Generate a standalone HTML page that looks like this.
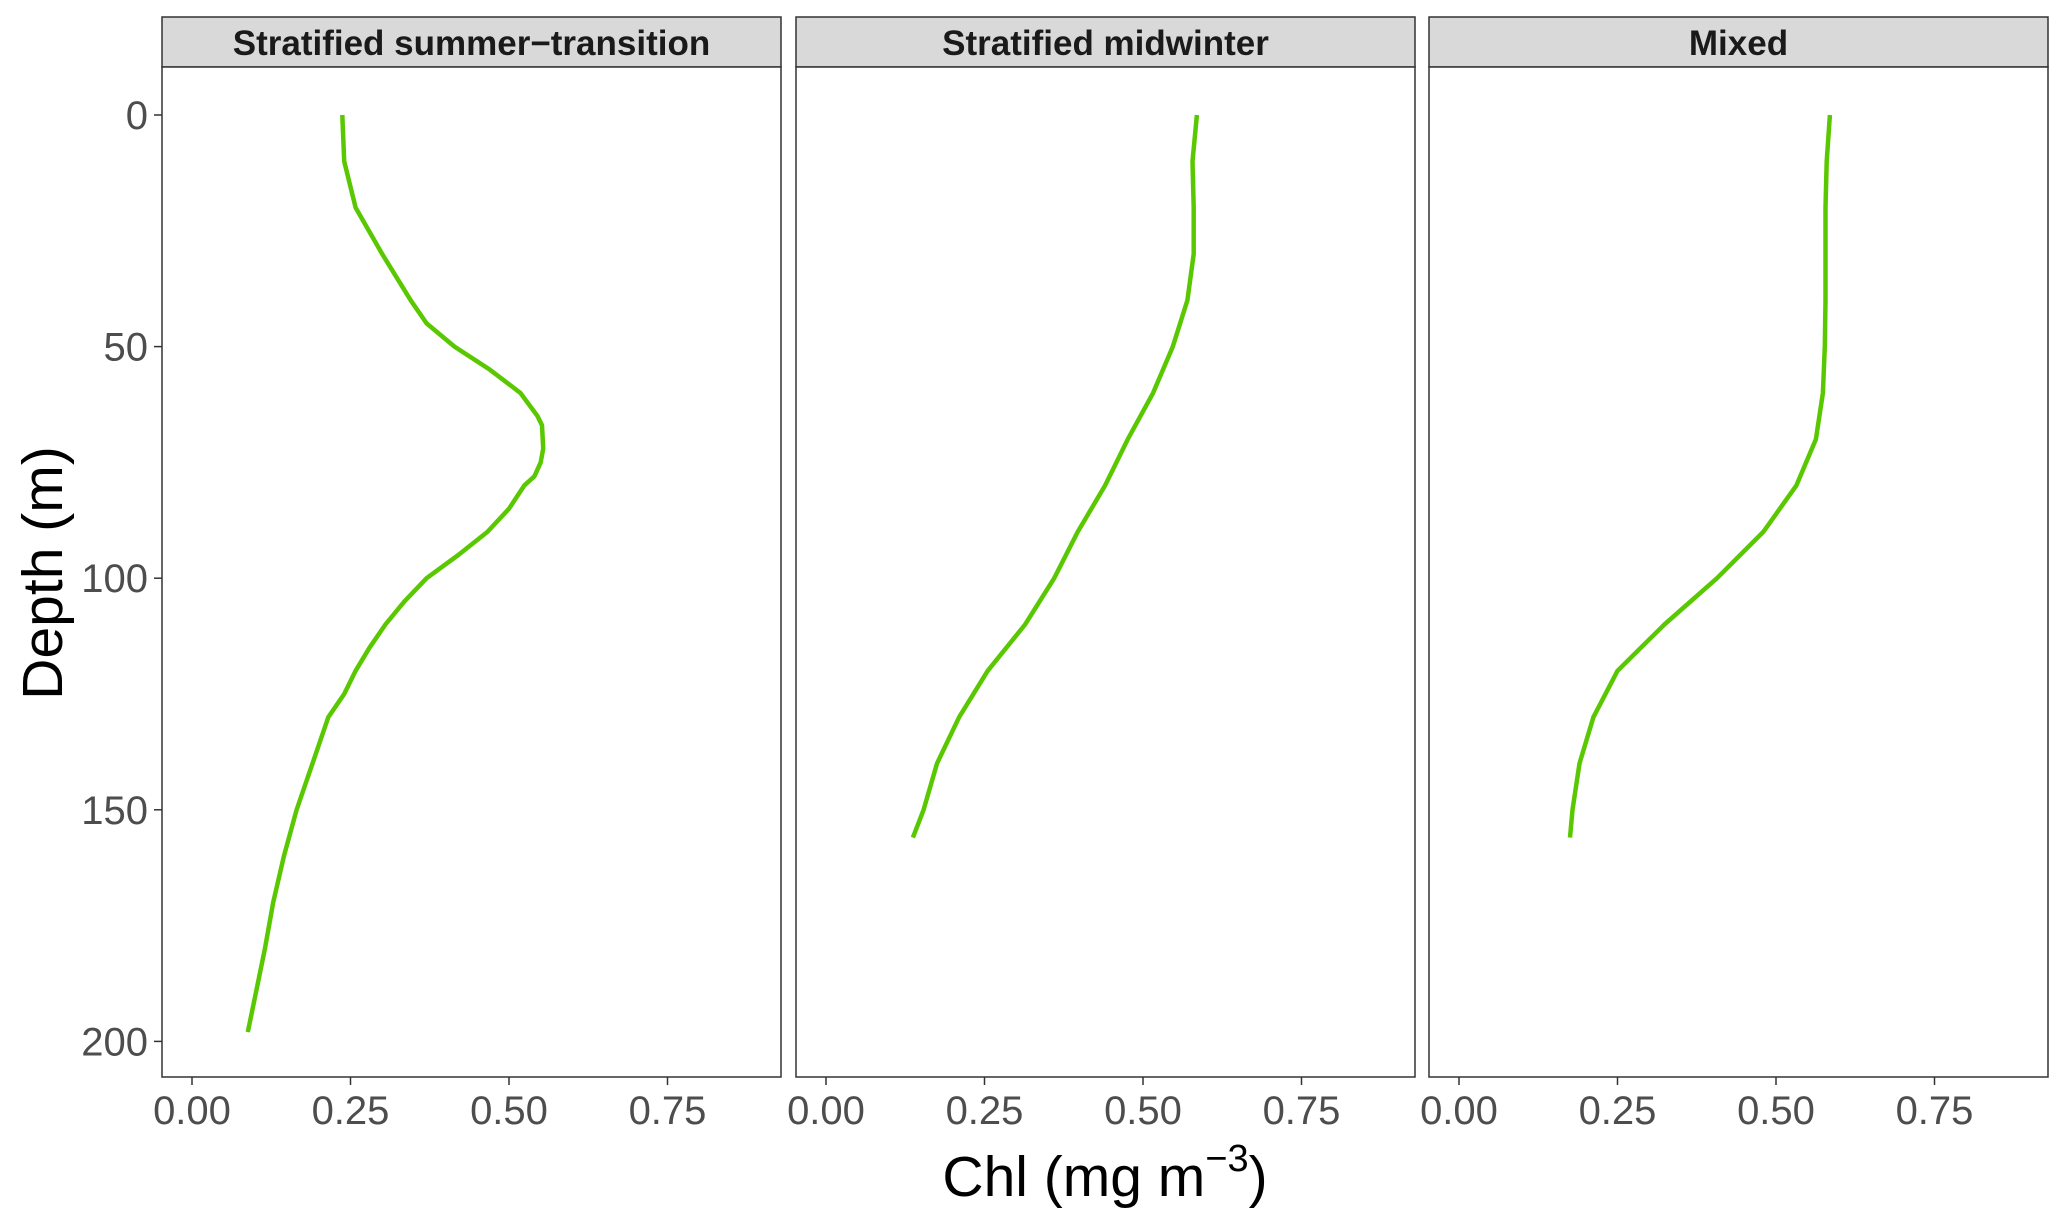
<!DOCTYPE html>
<html><head><meta charset="utf-8"><style>
body{margin:0;background:#fff}
svg{display:block;font-family:"Liberation Sans",Arial,sans-serif}
</style></head><body>
<svg id="chart" width="2067" height="1225"></svg>
<script>
const panelTitles=["Stratified summer\u2212transition","Stratified midwinter","Mixed"];
const depth1=[0,10,20,30,40,45,50,55,60,65,67,72,75,78,80,85,90,95,100,105,110,115,120,125,130,140,150,160,170,180,190,198];
const chl1=[0.237,0.24,0.258,0.30,0.345,0.37,0.414,0.47,0.518,0.545,0.552,0.554,0.55,0.54,0.524,0.50,0.466,0.42,0.37,0.335,0.305,0.28,0.258,0.24,0.215,0.19,0.165,0.145,0.128,0.115,0.10,0.088];
const depth2=[0,10,20,30,40,50,60,70,80,90,100,110,120,130,140,150,156];
const chl2=[0.585,0.578,0.58,0.58,0.57,0.547,0.516,0.476,0.44,0.397,0.36,0.314,0.255,0.21,0.175,0.154,0.137];
const depth3=[0,10,20,30,40,50,60,70,80,90,100,110,120,130,140,150,156];
const chl3=[0.585,0.58,0.578,0.578,0.578,0.577,0.574,0.563,0.532,0.48,0.407,0.324,0.25,0.212,0.19,0.179,0.175];
const depthTicks=[0,50,100,150,200];
const chlTicks=[0,0.25,0.5,0.75];
const chlTickLabels=["0.00","0.25","0.50","0.75"];
const series=[[depth1,chl1],[depth2,chl2],[depth3,chl3]];
const NS="http://www.w3.org/2000/svg";
const svg=document.getElementById('chart');
function mk(t,a,txt){const e=document.createElementNS(NS,t);for(const k in a)e.setAttribute(k,a[k]);if(txt!==undefined)e.textContent=txt;svg.appendChild(e);return e;}
const panelLeft=[162,796,1429],panelW=619,pTop=67,pBottom=1077,stripTop=17;
function yS(d){return 115+d*4.632;}
function xS(p,v){return panelLeft[p]+30+v*634;}
for(let p=0;p<3;p++){
  const L=panelLeft[p];
  const st=mk('rect',{x:L,y:stripTop,width:panelW,height:pTop-stripTop,fill:'#d9d9d9',stroke:'#333','stroke-width':1.5});
  
  
  const tt=mk('text',{x:L+panelW/2,y:55,'text-anchor':'middle','font-size':35,'font-weight':'bold',fill:'#1a1a1a'},panelTitles[p]);
  
  
  const bx=mk('rect',{x:L,y:pTop,width:panelW,height:pBottom-pTop,fill:'#fff',stroke:'#333','stroke-width':1.5});
  
  
  chlTicks.forEach((v,i)=>{
    const x=xS(p,v);
    const tk=mk('line',{x1:x,x2:x,y1:pBottom,y2:pBottom+8,stroke:'#333','stroke-width':1.5});
    
    
    const lb=mk('text',{x:x,y:pBottom+47,'text-anchor':'middle','font-size':40,fill:'#4d4d4d'},chlTickLabels[i]);
    
    
  });
  const ds=series[p][0],cs=series[p][1];
  const pts=ds.map((d,i)=>xS(p,cs[i]).toFixed(1)+','+yS(d).toFixed(1)).join(' ');
  const ln=mk('polyline',{points:pts,fill:'none',stroke:'#5ac800','stroke-width':4.5,'stroke-linejoin':'round'});
  
  
}
depthTicks.forEach(d=>{
  const y=yS(d);
  const tk=mk('line',{x1:154,x2:162,y1:y,y2:y,stroke:'#333','stroke-width':1.5});
  
  
  const lb=mk('text',{x:148,y:y+14,'text-anchor':'end','font-size':40,fill:'#4d4d4d'},String(d));
  
  
});
const yt=mk('text',{x:0,y:0,'text-anchor':'middle','font-size':57,fill:'#000',transform:'translate(62,573) rotate(-90)'},'Depth (m)');


const xt=mk('text',{x:1105,y:1196,'text-anchor':'middle','font-size':57,fill:'#000'});


xt.innerHTML='Chl (mg m<tspan dy="-25" font-size="38">\u22123</tspan><tspan dy="25">)</tspan>';
</script>
</body></html>
